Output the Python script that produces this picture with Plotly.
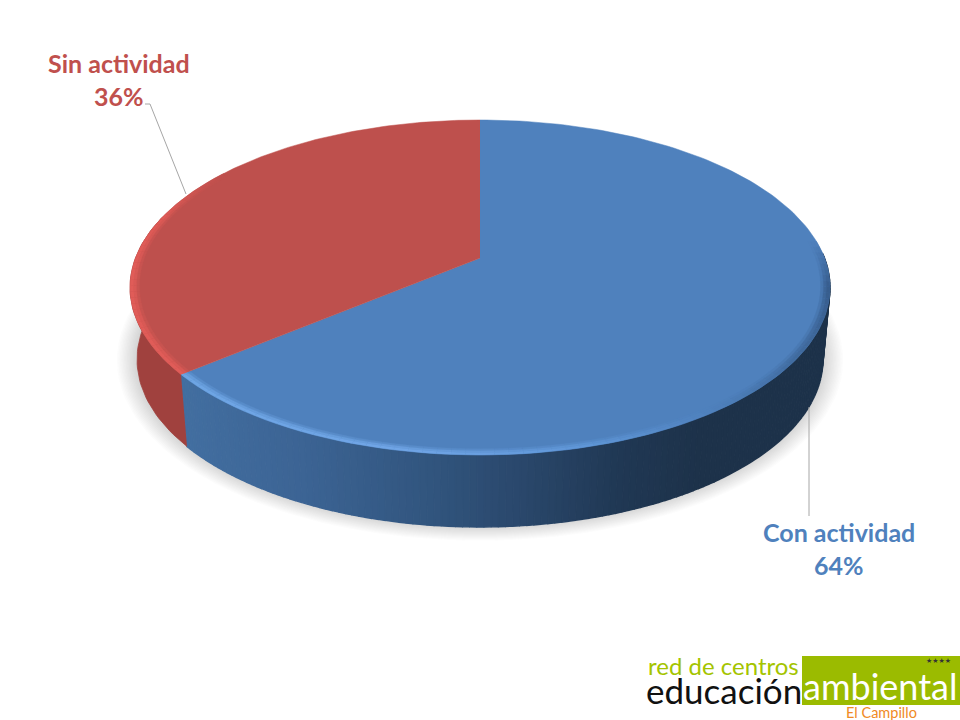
import numpy as np
import plotly.graph_objects as go

categories = ["Con actividad", "Sin actividad"]
shares = [64, 36]
face_colors = ["#4F81BD", "#BE504D"]
wall_red = "#A0413E"
text_colors = ["#4F81BD", "#C0504D"]

# view of the disc (perspective projection of a unit circle)
CX, APEX_Y, A, B, P = 480, 258, 344.5, 162.3, 0.176
DEPTH, BASE_SCALE = 72, 0.98


def project(theta_deg, r=1.0, sx=1.0, dy=0.0):
    t = np.radians(theta_deg)
    u, v = r * np.sin(t), -r * np.cos(t)
    d = 1 - P * v
    return CX + sx * A * u / d, APEX_Y + B * v / d + dy


def rgb(c):
    return "rgb(%d,%d,%d)" % tuple(int(round(x)) for x in c)


def ramp(x, xs, cs):
    return rgb([np.interp(x, xs, [c[i] for c in cs]) for i in range(3)])


fig = go.Figure()


def poly(xs, ys, color, line=0.8):
    fig.add_trace(go.Scatter(
        x=list(xs), y=list(ys), mode="lines", fill="toself", fillcolor=color,
        line=dict(color=color, width=line), hoverinfo="skip", showlegend=False))


boundary = 360 * shares[0] / sum(shares)

# soft shadow under the disc
for i in range(14, 0, -1):
    th = np.linspace(0, 360, 181)
    bx, by = project(th, 1.0, BASE_SCALE, DEPTH)
    s = 1 + i * 0.0042
    poly(CX + (bx - CX) * s, 340 + (by - 340) * (1 + i * 0.0056) - 1,
         "rgba(90,90,90,0.019)", 0)

# side wall
wall_xs = [185, 300, 420, 520, 620, 700, 830]
wall_cs = [(66, 110, 160), (60, 100, 148), (50, 86, 128), (42, 72, 108),
           (32, 56, 84), (29, 50, 74), (29, 50, 74)]
STEP = 1.0
for a0 in np.arange(boundary - STEP, 88, -STEP):
    a1 = a0 + STEP
    x0, y0 = project(a0)
    x1, y1 = project(a1)
    x2, y2 = project(a1, 1.0, BASE_SCALE, DEPTH)
    x3, y3 = project(a0, 1.0, BASE_SCALE, DEPTH)
    poly([x0, x1, x2, x3], [y0, y1, y2, y3], ramp((x0 + x1) / 2, wall_xs, wall_cs), 1.4)
th = np.linspace(boundary, 285, 40)
tx, ty = project(th)
bx, by = project(th, 1.0, BASE_SCALE, DEPTH)
poly(np.r_[tx, bx[::-1]], np.r_[ty, by[::-1]], wall_red)

# leader lines
leader_x = [[809, 809], [145, 150, 186]]
leader_y = [[407, 516], [104, 104, 194]]
for lx, ly in zip(leader_x, leader_y):
    fig.add_trace(go.Scatter(x=lx, y=ly, mode="lines", line=dict(color="#A6A6A6", width=1),
                             hoverinfo="skip", showlegend=False))

# top faces
spans = [(0, boundary), (boundary, 360)]
for (a0, a1), col in zip(spans, face_colors):
    th = np.linspace(a0, a1, 181)
    x, y = project(th)
    poly(np.r_[CX, x], np.r_[APEX_Y, y], col, 0.5)

# bevel along the front edge of the top face
rim_layers = [(0.974, 0.982, 0.3), (0.982, 0.990, 0.75), (0.990, 1.0, 1.0)]
rim_th = [84, 100, 125, 145, 165, 190, boundary]
rim_cs = [(79, 129, 189), (55, 92, 140), (65, 108, 160), (79, 129, 189),
          (95, 150, 215), (112, 165, 230), (110, 165, 228)]
rim_th_r = [boundary, 262, 285, 305]
rim_cs_r = [(224, 92, 88), (224, 92, 88), (222, 90, 86), (190, 80, 77)]
for a_start, a_end, base, th_k, cs_k in [
    (84, boundary, (79, 129, 189), rim_th, rim_cs),
    (boundary, 305, (190, 80, 77), rim_th_r, rim_cs_r),
]:
    base = np.array(base, float)
    for r0, r1, k in rim_layers:
        for a0 in np.arange(a_start, a_end, 2.0):
            a1 = min(a0 + 2.0, a_end)
            c = np.array([np.interp(a0 + 1, th_k, [q[i] for q in cs_k]) for i in range(3)])
            c = base + (c - base) * k
            x0, y0 = project(a0, r0); x1, y1 = project(a1, r0)
            x2, y2 = project(a1, r1); x3, y3 = project(a0, r1)
            poly([x0, x1, x2, x3], [y0, y1, y2, y3], rgb(c), 0.3)

annotations = []


def label(text, x, y, size, color, family="Lato", weight=700):
    annotations.append(dict(
        x=x, y=y, xref="x", yref="y", text=text, showarrow=False, xanchor="center",
        yanchor="middle", font=dict(family=family, size=size, color=color, weight=weight)))


label_x = [839, 119]
label_y = [532, 63]
for name, share, col, lx, ly in zip(categories, shares, text_colors, label_x, label_y):
    label(name, lx, ly, 25, col)
    label(f"{share}%", lx, ly + 33, 25, col)

# logo block
shapes = [dict(type="rect", xref="x", yref="y", x0=802, x1=960, y0=656, y1=705,
               fillcolor="#9BBB00", line=dict(width=0), layer="above")]
label("red de centros", 723, 665, 24, "#A4C400", "Lato", 400)
label("educación", 724, 690, 35, "#111111", "Lato", 400)
label("ambiental", 880, 686, 36, "#FFFFFF", "Lato", 400)
label("El Campillo", 881, 712, 14.5, "#F08A24", "Lato", 400)
label("★★★★", 938, 661, 7, "#333333", "DejaVu Sans", 400)

fig.update_layout(
    width=960, height=720, margin=dict(l=0, r=0, t=0, b=0),
    paper_bgcolor="white", plot_bgcolor="white", showlegend=False,
    xaxis=dict(range=[0, 960], visible=False, fixedrange=True),
    yaxis=dict(range=[720, 0], visible=False, fixedrange=True),
    annotations=annotations, shapes=shapes,
)
fig.write_html("out.html", config={"displayModeBar": False},
               post_script="document.body.style.margin='0';document.documentElement.style.overflow='hidden';")
